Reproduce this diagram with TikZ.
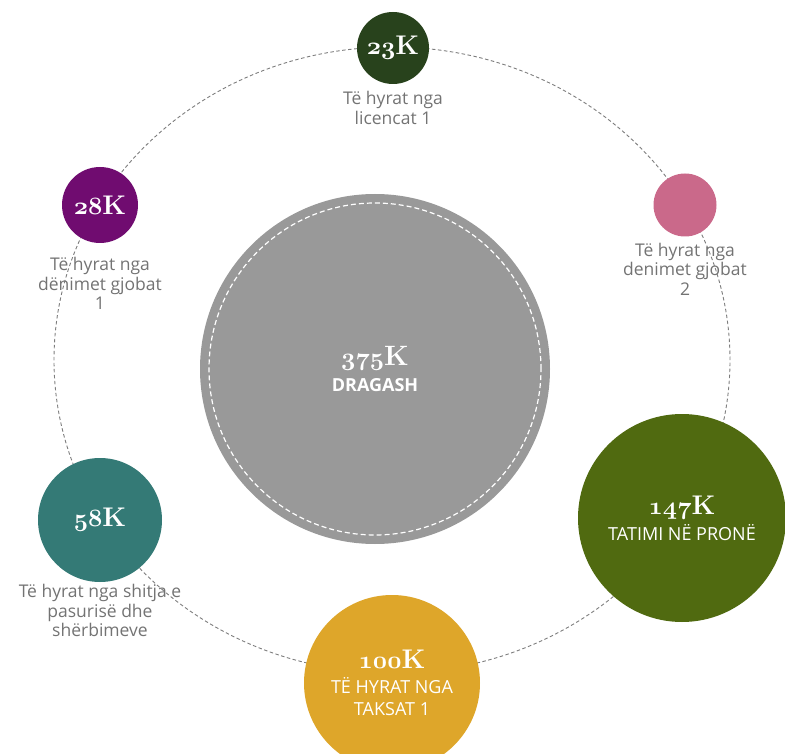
\documentclass[tikz,border=0pt]{standalone}
\usepackage{fontspec}
\setsansfont{Open Sans}
\usetikzlibrary{positioning}

\definecolor{licgreen}{RGB}{40,66,28}
\definecolor{finepurple}{RGB}{112,12,112}
\definecolor{finepink}{RGB}{202,105,138}
\definecolor{totalgrey}{RGB}{153,153,153}
\definecolor{saleteal}{RGB}{52,122,118}
\definecolor{taxgold}{RGB}{222,166,42}
\definecolor{propgreen}{RGB}{80,106,16}
\definecolor{labelgrey}{RGB}{115,115,115}
\definecolor{ringgrey}{RGB}{125,125,125}

% value in old style figures, K from the text font
\newcommand{\amount}[2][27]{{\fontsize{#1}{#1}\selectfont{\usefont{OML}{cmm}{b}{it}#2}\bfseries K}}
\newcommand{\inname}[1]{{\sffamily #1}}

\begin{document}
\begin{tikzpicture}[x=1pt, y=-1pt,
    bubble/.style={circle, inner sep=0pt, text=white, align=center,
      font=\fontsize{18}{22}\selectfont},
    sub/.style={rectangle, inner sep=1pt, align=center, text=labelgrey,
      font=\sffamily\fontsize{17.5}{19.5}\selectfont}]
  \useasboundingbox (0,0) rectangle (785,754);
  \coordinate (ring) at (392,360);
  \draw[ringgrey, line width=0.9pt, dash pattern=on 3.5pt off 2.5pt] (ring) ellipse [x radius=338pt, y radius=313pt];

  \begin{scope}[every label/.style={sub}]
    \node[bubble, fill=totalgrey, minimum size=350pt] (dragash) at (375,369)
      {\amount[28]{375}\\[4pt]\inname{\bfseries DRAGASH}};
    \node[bubble, fill=licgreen, minimum size=72pt,
      label={[label distance=6pt]below:Të hyrat nga\\licencat 1}] (lic) at (393,48) {\amount{23}};
    \node[bubble, fill=finepurple, minimum size=76pt,
      label={[label distance=13pt]below:Të hyrat nga\\dënimet gjobat\\1}] (fine1) at (100,205) {\amount{28}};
    \node[bubble, fill=finepink, minimum size=63pt,
      label={[label distance=5pt]below:Të hyrat nga\\denimet gjobat\\2}] (fine2) at (685,205) {};
    \node[bubble, fill=saleteal, minimum size=124pt,
      label={[label distance=1pt]below:Të hyrat nga shitja e\\pasurisë dhe\\shërbimeve}] (sale) at (100,520) {\amount{58}};
    \node[bubble, fill=propgreen, minimum size=208pt] (prop) at (682,518)
      {\amount{147}\\[4pt]\inname{TATIMI NË PRONË}};
    \node[bubble, fill=taxgold, minimum size=176pt] (tax) at (392,683)
      {\amount{100}\\[3pt]\inname{TË HYRAT NGA}\\\inname{TAKSAT 1}};
  \end{scope}

  \draw[white, line width=1.2pt, dash pattern=on 5pt off 3pt] (dragash.center) circle [radius=166pt];
\end{tikzpicture}
\end{document}
